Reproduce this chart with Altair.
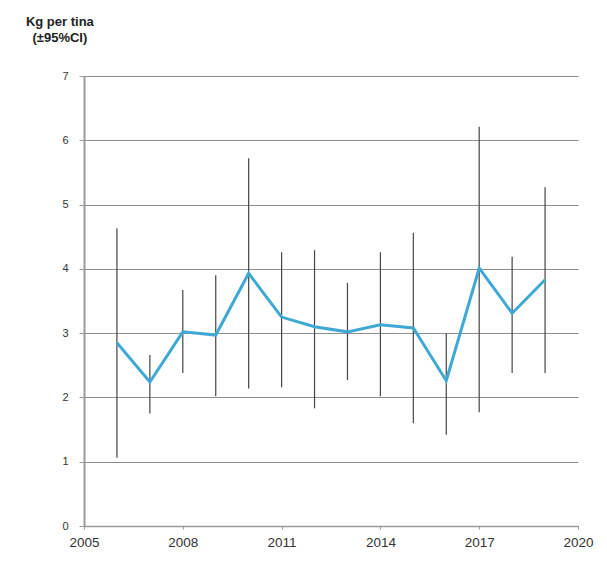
import altair as alt
import pandas as pd

years = [2006, 2007, 2008, 2009, 2010, 2011, 2012, 2013, 2014, 2015, 2016, 2017, 2018, 2019]
mean = [2.85, 2.24, 3.02, 2.97, 3.93, 3.25, 3.10, 3.02, 3.13, 3.08, 2.26, 4.01, 3.31, 3.83]
lower = [1.06, 1.75, 2.38, 2.02, 2.14, 2.16, 1.83, 2.27, 2.02, 1.60, 1.42, 1.77, 2.38, 2.38]
upper = [4.63, 2.66, 3.67, 3.90, 5.72, 4.26, 4.29, 3.78, 4.26, 4.56, 3.00, 6.21, 4.19, 5.27]
x_ticks = [2005, 2008, 2011, 2014, 2017, 2020]
y_ticks = [0, 1, 2, 3, 4, 5, 6, 7]

df = pd.DataFrame({"year": years, "mean": mean, "lower": lower, "upper": upper})

FONT = "Liberation Sans"

xs = alt.Scale(domain=[2005, 2020], nice=False)
ys = alt.Scale(domain=[0, 7], nice=False)

xaxis = alt.Axis(values=x_ticks, format="d", grid=False, title=None, tickSize=3,
                 labelFontSize=13.5, labelColor="#333333", domainColor="#9a9a9a",
                 tickColor="#9a9a9a", labelPadding=6, labelFont=FONT,
                 labelFlush=False, domainWidth=1.5)
yaxis = alt.Axis(values=y_ticks, format="d", grid=True, title=None, tickSize=5,
                 labelFontSize=11, labelColor="#333333", domainColor="#9a9a9a",
                 tickColor="#9a9a9a", gridColor="#8f8f8f", gridWidth=1,
                 labelPadding=11, domainWidth=2, labelFont=FONT)

base = alt.Chart(df)

bars = base.mark_rule(color="#444444", strokeWidth=1.2).encode(
    x=alt.X("year:Q", scale=xs, axis=xaxis),
    y=alt.Y("lower:Q", scale=ys, axis=yaxis),
    y2="upper:Q",
)

line = base.mark_line(color="#3fa9d6", strokeWidth=3).encode(
    x=alt.X("year:Q", scale=xs),
    y=alt.Y("mean:Q", scale=ys),
)

chart = (bars + line).properties(
    width=494,
    height=450,
    autosize=alt.AutoSizeParams(type="none"),
    padding={"left": 84, "top": 76, "right": 29, "bottom": 41},
    title=alt.Title(
        text=["Kg per tina", "(±95%CI)"],
        anchor="start",
        align="center",
        dx=-2,
        offset=25,
        fontSize=13,
        fontWeight="bold",
        lineHeight=16,
        font=FONT,
        color="#222222",
    ),
).configure_view(stroke=None)

chart.save("out.html", embed_options={"renderer": "svg", "actions": False})
